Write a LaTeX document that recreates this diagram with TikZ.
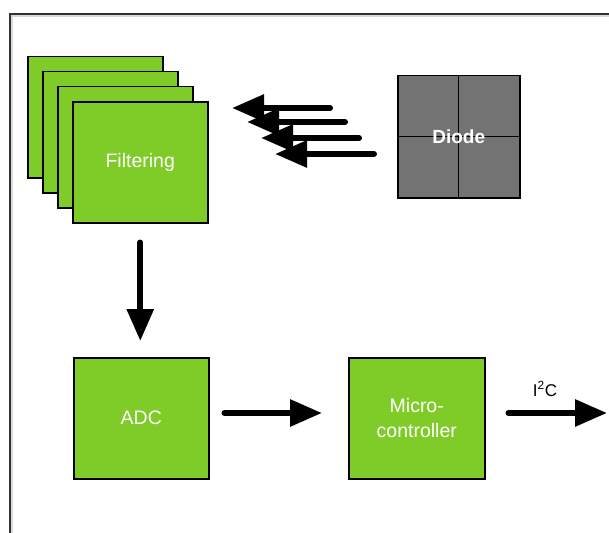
\documentclass[tikz,border=0pt]{standalone}
\usepackage{fontspec}
\setmainfont{Liberation Sans}
\usetikzlibrary{arrows.meta}
\definecolor{boxgreen}{RGB}{127,204,41}
\definecolor{diodegray}{RGB}{115,115,115}
\definecolor{framegray}{RGB}{50,50,50}
\tikzset{
  greenbox/.style={draw=black, line width=1.5pt, fill=boxgreen, minimum width=135pt,
    minimum height=121pt, inner sep=0pt, text=white, align=center,
    font=\fontsize{19.5}{25}\selectfont},
  fatarrow/.style={draw=black, line width=6pt, line cap=round,
    -{Triangle[length=32pt,width=26pt]}},
  labeltext/.style={inner sep=0pt, font=\fontsize{17}{20}\selectfont},
}
\begin{document}
\begin{tikzpicture}[x=1pt,y=-1pt]
\useasboundingbox (0,0) rectangle (609,532);
\clip (0,0) rectangle (609,532);
\fill[white] (0,0) rectangle (609,532);
% frame
\draw[line width=2pt, draw=black!15] (622,16) -- (12,16) -- (12,545);
\draw[line width=1.8pt, draw=framegray] (622,14) -- (10,14) -- (10,545);
% filtering stack
\node[greenbox, anchor=north west] (filt1) at (27,56) {};
\node[greenbox, anchor=north west] (filt2) at (42,71) {};
\node[greenbox, anchor=north west] (filt3) at (57,86) {};
\node[greenbox, anchor=north west] (filt4) at (72,101) {Filtering};
% diode
\node[draw=black, line width=1.5pt, fill=diodegray, minimum width=122pt, minimum height=122pt,
      inner sep=0pt, anchor=north west] (diode) at (397,75) {};
\draw[line width=1.2pt] (diode.north) -- (diode.south);
\draw[line width=1.2pt] (diode.west) -- (diode.east);
\node[text=white, inner sep=0pt, font=\fontsize{19}{22}\bfseries] (diodelabel) at (diode.center) {Diode};
% light arrows
\coordinate (l1s) at (330,108); \coordinate (l1e) at (232,108);
\coordinate (l2s) at (345,122); \coordinate (l2e) at (247,122);
\coordinate (l3s) at (359,138); \coordinate (l3e) at (261,138);
\coordinate (l4s) at (374,154); \coordinate (l4e) at (275,154);
\draw[fatarrow] (l1s) -- (l1e);
\draw[fatarrow] (l2s) -- (l2e);
\draw[fatarrow] (l3s) -- (l3e);
\draw[fatarrow] (l4s) -- (l4e);
% lower boxes
\node[greenbox, anchor=north west] (adc) at (73,357) {ADC};
\node[greenbox, anchor=north west, minimum width=136pt] (micro) at (348,357) {Micro-\\controller};
% connectors
\coordinate (out) at (607,413);
\draw[fatarrow, shorten <=19pt, shorten >=16pt] (filt4.south) -- (filt4.south |- adc.north);
\draw[fatarrow, shorten <=15pt, shorten >=26pt] (adc.east |- out) -- (micro.west |- out);
\draw[fatarrow, shorten <=23pt] (micro.east |- out) -- (out);
\node[labeltext] (i2c) at (545,389) {I\textsuperscript{2}C};
\end{tikzpicture}
\end{document}
